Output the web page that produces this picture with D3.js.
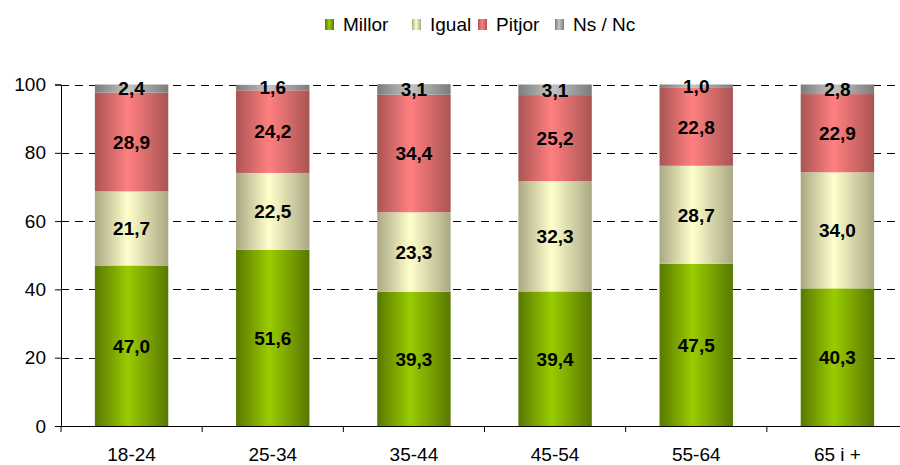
<!DOCTYPE html>
<html>
<head>
<meta charset="utf-8">
<script src="https://cdn.jsdelivr.net/npm/d3@7"></script>
<style>
  body { margin: 0; background: #fff; }
  svg { display: block; font-family: "Liberation Sans", Arial, sans-serif; }
</style>
</head>
<body>
<div id="chart"></div>
<script>
const categories = ["18-24", "25-34", "35-44", "45-54", "55-64", "65 i +"];
const millor = [47.0, 51.6, 39.3, 39.4, 47.5, 40.3];
const igual  = [21.7, 22.5, 23.3, 32.3, 28.7, 34.0];
const pitjor = [28.9, 24.2, 34.4, 25.2, 22.8, 22.9];
const nsnc   = [2.4, 1.6, 3.1, 3.1, 1.0, 2.8];
const seriesNames = ["Millor", "Igual", "Pitjor", "Ns / Nc"];
const yTicks = [0, 20, 40, 60, 80, 100];

// edge / centre colours for the cylinder-ish gradient
const colours = [
    { edge: "#587800", mid: "#99cc00" },
    { edge: "#aaa884", mid: "#ffffcc" },
    { edge: "#aa5454", mid: "#ff8080" },
    { edge: "#7c7c7c", mid: "#c4c4c4" },
];

function drawChart() {
    const width = 900, height = 465;
    const margin = { top: 84.5, right: -8, bottom: 39, left: 61 };
    const font = "\"Liberation Sans\", Arial, sans-serif";

    const svg = d3.select("#chart").append("svg")
        .attr("width", width)
        .attr("height", height);

    const defs = svg.append("defs");
    colours.forEach((c, i) => {
        const grad = defs.append("linearGradient")
            .attr("id", "g" + i)
            .attr("x1", "0%").attr("x2", "100%")
            .attr("y1", "0%").attr("y2", "0%");
        grad.append("stop").attr("offset", "0%").attr("stop-color", c.edge);
        grad.append("stop").attr("offset", "45%").attr("stop-color", c.mid);
        grad.append("stop").attr("offset", "100%").attr("stop-color", c.edge);
    });

    const x = d3.scaleBand()
        .domain(categories)
        .range([margin.left, width - margin.right])
        .paddingInner(0.48)
        .paddingOuter(0.24);

    const y = d3.scaleLinear()
        .domain([0, 100])
        .range([height - margin.bottom, margin.top]);

    // gridlines
    svg.append("g")
        .selectAll("line")
        .data(yTicks.filter(d => d > 0))
        .join("line")
        .attr("x1", margin.left)
        .attr("x2", width)
        .attr("y1", d => Math.round(y(d)) + 0.5)
        .attr("y2", d => Math.round(y(d)) + 0.5)
        .attr("stroke", "#000")
        .attr("stroke-dasharray", "8,6");

    const rows = categories.map((c, i) => ({
        cat: c, Millor: millor[i], Igual: igual[i], Pitjor: pitjor[i], "Ns / Nc": nsnc[i]
    }));
    const stacked = d3.stack().keys(seriesNames)(rows);

    const layers = svg.append("g")
        .selectAll("g")
        .data(stacked)
        .join("g")
        .attr("fill", (d, i) => `url(#g${i})`);

    layers.selectAll("rect")
        .data(d => d)
        .join("rect")
        .attr("x", d => x(d.data.cat))
        .attr("width", x.bandwidth())
        .attr("y", d => y(d[1]))
        .attr("height", d => y(d[0]) - y(d[1]));

    // value labels
    layers.selectAll("text")
        .data(d => d.map(v => ({ v, key: d.key })))
        .join("text")
        .attr("x", d => x(d.v.data.cat) + x.bandwidth() / 2)
        .attr("y", d => (y(d.v[0]) + y(d.v[1])) / 2)
        .attr("dy", "0.36em")
        .attr("text-anchor", "middle")
        .attr("fill", "#000")
        .style("font-size", "19px")
        .style("font-weight", "bold")
        .text(d => d3.format(".1f")(d.v.data[d.key]).replace(".", ","));

    // axes
    const yAxis = svg.append("g")
        .attr("transform", `translate(${margin.left},0)`)
        .call(d3.axisLeft(y).tickValues(yTicks).tickSize(6).tickPadding(9));
    yAxis.select(".domain").attr("stroke", "#000");
    yAxis.selectAll("text").style("font-size", "19px").attr("fill", "#000")
        .style("font-family", font);

    const xAxis = svg.append("g")
        .attr("transform", `translate(0,${height - margin.bottom})`)
        .call(d3.axisBottom(x).tickSize(0).tickPadding(22).tickSizeOuter(0));
    xAxis.select(".domain").attr("stroke", "#000");
    xAxis.selectAll("text").style("font-size", "19px").attr("fill", "#000")
        .style("font-family", font);

    // category boundary ticks
    const step = x.step();
    const bounds = d3.range(categories.length + 1).map(i => margin.left + i * step);
    svg.append("g")
        .selectAll("line")
        .data(bounds)
        .join("line")
        .attr("x1", d => d).attr("x2", d => d)
        .attr("y1", height - margin.bottom)
        .attr("y2", height - margin.bottom + 6)
        .attr("stroke", "#000");

    // legend
    const legendX = [325, 412, 478, 555];
    const legend = svg.append("g")
        .selectAll("g")
        .data(seriesNames)
        .join("g")
        .attr("transform", (d, i) => `translate(${legendX[i]},24)`);
    legend.append("rect")
        .attr("x", 0).attr("y", -5)
        .attr("width", 9).attr("height", 11)
        .attr("fill", (d, i) => `url(#g${i})`);
    legend.append("text")
        .attr("x", 18)
        .attr("dy", "0.36em")
        .style("font-size", "19px")
        .text(d => d);
}

drawChart();
</script>
</body>
</html>
